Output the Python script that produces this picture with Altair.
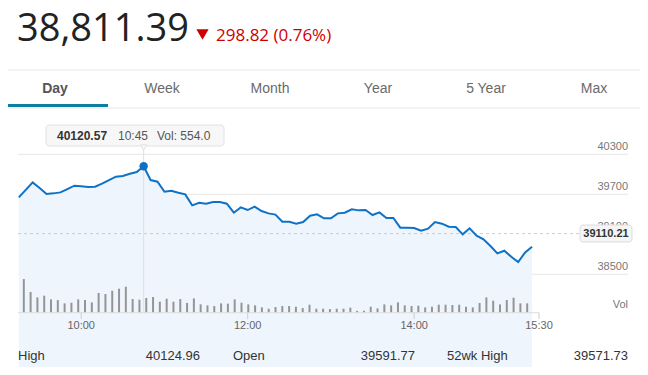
import altair as alt
import pandas as pd

# ---------------- data ----------------
times = ["09:15","09:20","09:25","09:30","09:35","09:40","09:45","09:50","09:55","10:00",
         "10:05","10:10","10:15","10:20","10:25","10:30","10:35","10:40","10:45","10:50",
         "10:55","11:00","11:05","11:10","11:15","11:20","11:25","11:30","11:35","11:40",
         "11:45","11:50","11:55","12:00","12:05","12:10","12:15","12:20","12:25","12:30",
         "12:35","12:40","12:45","12:50","12:55","13:00","13:05","13:10","13:15","13:20",
         "13:25","13:30","13:35","13:40","13:45","13:50","13:55","14:00","14:05","14:10",
         "14:15","14:20","14:25","14:30","14:35","14:40","14:45","14:50","14:55","15:00",
         "15:05","15:10","15:15","15:20","15:25"]
prices = [39654,39767,39879,39794,39704,39714,39729,39779,39829,39819,
          39809,39814,39859,39914,39964,39974,40009,40034,40120.57,39914,
          39889,39739,39754,39724,39699,39534,39574,39559,39584,39584,
          39559,39424,39504,39464,39514,39449,39414,39396,39289,39289,
          39259,39284,39379,39399,39339,39339,39414,39424,39474,39459,
          39464,39389,39429,39344,39344,39199,39199,39194,39154,39184,
          39284,39259,39214,39209,39099,39189,39079,39024,38924,38814,
          38854,38764,38684,38829,38914]
volumes = [1270,779,578,641,503,478,352,377,503,478,
           390,742,704,830,905,980,515,490,554,591,
           415,528,415,515,370,540,314,277,251,352,
           340,503,377,314,277,201,151,214,251,251,
           226,176,302,151,151,138,151,151,189,70,
           75,226,163,314,277,390,277,251,264,201,
           226,302,302,289,302,226,201,365,578,452,
           314,478,566,352,352]

y_ticks = [40300, 39700, 39100, 38500]
x_tick_labels = ["10:00", "12:00", "14:00", "15:30"]
prev_close = 39110.21
hi_time, hi_price, hi_vol = "10:45", 40120.57, 554.0

headline = "38,811.39"
change_text = "298.82 (0.76%)"
tabs = ["Day", "Week", "Month", "Year", "5 Year", "Max"]
stat_names = ["High", "Open", "52wk High"]
stat_values = ["40124.96", "39591.77", "39571.73"]


def to_min(s):
    h, m = s.split(":")
    return int(h) * 60 + int(m)


df = pd.DataFrame({"t": [to_min(s) for s in times], "price": prices, "vol": volumes})
df_grid = pd.DataFrame({"p": y_ticks, "lab": [str(v) for v in y_ticks]})
df_xt = pd.DataFrame({"t": [to_min(s) for s in x_tick_labels], "lab": x_tick_labels})
df_prev = pd.DataFrame({"p": [prev_close]})
df_hi = pd.DataFrame({"t": [to_min(hi_time)], "p": [hi_price]})
one = pd.DataFrame({"k": [0]})

# ---------------- scales ----------------
XS = alt.Scale(domain=[555, 930], range=[10.8, 531])
PS = alt.Scale(domain=[38500, 40300], range=[266.3, 146.3])
VS = alt.Scale(domain=[0, 1000], range=[304.7, 278.2])

X = alt.X("t:Q", scale=XS, axis=None)
YP = alt.Y("p:Q", scale=PS, axis=None)

SANS = "Liberation Sans"
layers = []


def hline(x1, x2, y, color, width=1, dash=None):
    kw = dict(color=color, strokeWidth=width)
    if dash:
        kw["strokeDash"] = dash
    return alt.Chart(one).mark_rule(**kw).encode(
        x=alt.value(x1), x2=alt.value(x2), y=alt.value(y))


def txt(s, x, y, size, color, weight="normal", align="left", font=SANS, baseline="middle"):
    return alt.Chart(one).mark_text(
        text=s, fontSize=size, color=color, fontWeight=weight, align=align,
        baseline=baseline, font=font).encode(x=alt.value(x), y=alt.value(y))


def box(x1, x2, y1, y2, fill, stroke):
    return alt.Chart(one).mark_rect(
        fill=fill, stroke=stroke, strokeWidth=1, cornerRadius=3).encode(
        x=alt.value(x1), x2=alt.value(x2), y=alt.value(y1), y2=alt.value(y2))


# header
layers.append(txt(headline, 9, 33, 38, "#222222", font="Open Sans", baseline="alphabetic"))
layers.append(alt.Chart(one).mark_point(shape="triangle-down", filled=True, color="#cc0000",
                                        size=150, opacity=1).encode(
    x=alt.value(194.5), y=alt.value(26.5)))
layers.append(txt(change_text, 208, 33, 17, "#cc0000", font="Open Sans", baseline="alphabetic"))

# tabs
layers.append(hline(0, 632, 62, "#e6e6e6"))
tab_x = [47, 154, 262, 370, 478, 586]
for name, tx in zip(tabs, tab_x):
    if name == "Day":
        layers.append(txt(name, tx, 81, 14, "#555555", weight="bold", align="center"))
    else:
        layers.append(txt(name, tx, 81, 14, "#6a6a6a", align="center"))
layers.append(hline(0, 632, 100, "#e6e6e6"))
layers.append(hline(0, 100, 97.5, "#0d7fa1", width=3))

# gridlines
layers.append(alt.Chart(df_grid[df_grid.p != 39100]).mark_rule(color="#e6e6e6", strokeWidth=1).encode(
    y=YP, x=alt.value(10), x2=alt.value(620)))

# area (pale fill)
layers.append(alt.Chart(df).mark_area(color="#eef5fc", opacity=1).encode(
    x=X, y=alt.Y("price:Q", scale=PS, axis=None), y2=alt.value(304.7)))

# y labels
layers.append(alt.Chart(df_grid).mark_text(
    align="right", baseline="alphabetic", dy=-4.3, fontSize=11, color="#777777", font=SANS).encode(
    y=YP, x=alt.value(620), text="lab:N"))
layers.append(txt("Vol", 620, 300, 11, "#777777", align="right", baseline="alphabetic"))

# previous close dashed line
layers.append(alt.Chart(df_prev).mark_rule(color="#cccccc", strokeWidth=1, strokeDash=[3, 3]).encode(
    y=YP, x=alt.value(10), x2=alt.value(572)))

# crosshair
layers.append(alt.Chart(df_hi).mark_rule(color="#e0e0e0", strokeWidth=1).encode(
    x=X, y=alt.value(139), y2=alt.value(304.7)))

# volume bars
layers.append(alt.Chart(df).mark_bar(color="#959595", size=2).encode(
    x=X, y=alt.Y("vol:Q", scale=VS, axis=None)))

# price line
layers.append(alt.Chart(df).mark_line(color="#0f72c6", strokeWidth=2).encode(
    x=X, y=alt.Y("price:Q", scale=PS, axis=None)))

# highlight point
layers.append(alt.Chart(df_hi).mark_point(filled=True, color="#0f6fc2", size=70, opacity=1).encode(
    x=X, y=YP))

# x axis
layers.append(hline(10, 531, 304.7, "#dddddd"))
layers.append(alt.Chart(df_xt).mark_rule(color="#cccccc").encode(
    x=X, y=alt.value(304.7), y2=alt.value(311)))
layers.append(alt.Chart(df_xt).mark_text(fontSize=11, color="#666666", font=SANS, baseline="middle").encode(
    x=X, y=alt.value(318), text="lab:N"))

# previous close box
layers.append(box(572, 624, 217, 234, "#f5f5f5", "#dddddd"))
layers.append(txt(f"{prev_close:.2f}", 598, 225.7, 11, "#333333", weight="bold", align="center"))

# tooltip
layers.append(box(38, 216, 117, 138, "#f7f7f7", "#e2e2e2"))
layers.append(alt.Chart(one).mark_point(shape="triangle-down", filled=True, color="#f7f7f7",
                                        stroke="#e2e2e2", strokeWidth=1, size=40, opacity=1).encode(
    x=alt.value(135.6), y=alt.value(139.5)))
layers.append(txt(f"{hi_price:.2f}", 49, 127.5, 12, "#333333", weight="bold"))
layers.append(txt(hi_time, 110, 127.5, 12, "#555555"))
layers.append(txt(f"Vol: {hi_vol:.1f}", 149, 127.5, 12, "#555555"))

# stats row
stat_left = [10, 225, 439]
stat_right = [192, 407, 620]
for n, v, l, r in zip(stat_names, stat_values, stat_left, stat_right):
    layers.append(txt(n, l, 348, 13, "#333333"))
    layers.append(txt(v, r, 348, 13, "#333333", align="right"))
    layers.append(hline(l, r, 364, "#e6e6e6"))

chart = alt.layer(*layers).resolve_scale(y="independent", x="independent").properties(
    width=632, height=359, padding=0, autosize="none"
).configure_view(stroke=None)

chart.save("out.html", embed_options={"renderer": "svg", "actions": False})
